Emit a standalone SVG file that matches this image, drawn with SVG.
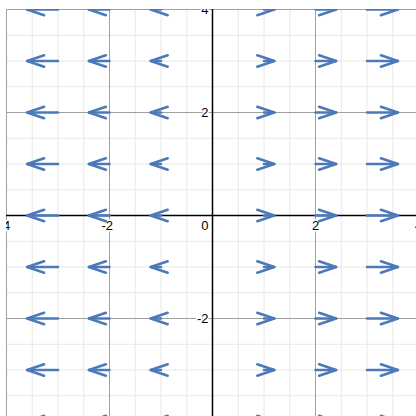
<svg xmlns="http://www.w3.org/2000/svg" width="416" height="416" viewBox="0 0 416 416">
<style>
.minor{stroke:#e8e8e8;stroke-width:1;fill:none}
.major{stroke:#a0a0a0;stroke-width:1;fill:none}
.axis{stroke:#000;stroke-width:1.5;fill:none}
.lbl{font-family:"Liberation Sans",Arial,sans-serif;font-size:13px;fill:#000;stroke:#fff;stroke-width:3;paint-order:stroke;stroke-linejoin:round}
.vec{stroke:#4c79b9;stroke-width:2.5;fill:none;stroke-linecap:round;marker-end:url(#ah)}
</style>
<defs>
<clipPath id="plot"><rect x="6" y="9" width="410" height="407"/></clipPath>
<marker id="ah" markerUnits="userSpaceOnUse" viewBox="-20 -8 22 16" refX="0" refY="0" markerWidth="22" markerHeight="16" orient="auto" overflow="visible">
<path d="M-17,-5.7 L0,0 L-17,5.7" stroke="#4c79b9" stroke-width="2.5" fill="none" stroke-linecap="round" stroke-linejoin="round"/>
</marker>
</defs>
<rect width="416" height="416" fill="#fff"/>
<g clip-path="url(#plot)">
<g id="grid-minor" class="minor">
<path d="M32.25,0V416M58,0V416M83.75,0V416M135.25,0V416M161,0V416M186.75,0V416M238.25,0V416M264,0V416M289.75,0V416M341.25,0V416M367,0V416M392.75,0V416"/>
<path d="M0,35.25H416M0,61H416M0,86.75H416M0,138.25H416M0,164H416M0,189.75H416M0,241.25H416M0,267H416M0,292.75H416M0,344.25H416M0,370H416M0,395.75H416"/>
</g>
<g id="grid-major" class="major">
<path d="M6.5,0V416M109.5,0V416M315.5,0V416M0,9.5H416M0,112.5H416M0,318.5H416"/>
</g>
<g id="axes" class="axis">
<path d="M212.5,0V416M0,215.5H416"/>
</g>
<g id="labels" class="lbl">
<text x="208.5" y="14.1" text-anchor="end">4</text>
<text x="208.5" y="117.1" text-anchor="end">2</text>
<text x="208.5" y="229.8" text-anchor="end">0</text>
<text x="208.5" y="323.1" text-anchor="end">-2</text>
<text x="10.1" y="229.8" text-anchor="end">-4</text>
<text x="113.1" y="229.8" text-anchor="end">-2</text>
<text x="315.5" y="229.8" text-anchor="middle">2</text>
<text x="418.5" y="229.8" text-anchor="middle">4</text>
</g>
<g id="connectors">
<g id="row-4">
<path class="vec" d="M58,9.5H27.1"/><path class="vec" d="M109.5,9.5H88.9"/><path class="vec" d="M161,9.5H150.7"/>
<path class="vec" d="M264,9.5H274.3"/><path class="vec" d="M315.5,9.5H336.1"/><path class="vec" d="M367,9.5H397.9"/>
</g>
<g id="row-3">
<path class="vec" d="M58,61H27.1"/><path class="vec" d="M109.5,61H88.9"/><path class="vec" d="M161,61H150.7"/>
<path class="vec" d="M264,61H274.3"/><path class="vec" d="M315.5,61H336.1"/><path class="vec" d="M367,61H397.9"/>
</g>
<g id="row-2">
<path class="vec" d="M58,112.5H27.1"/><path class="vec" d="M109.5,112.5H88.9"/><path class="vec" d="M161,112.5H150.7"/>
<path class="vec" d="M264,112.5H274.3"/><path class="vec" d="M315.5,112.5H336.1"/><path class="vec" d="M367,112.5H397.9"/>
</g>
<g id="row-1">
<path class="vec" d="M58,164H27.1"/><path class="vec" d="M109.5,164H88.9"/><path class="vec" d="M161,164H150.7"/>
<path class="vec" d="M264,164H274.3"/><path class="vec" d="M315.5,164H336.1"/><path class="vec" d="M367,164H397.9"/>
</g>
<g id="row0">
<path class="vec" d="M58,215.5H27.1"/><path class="vec" d="M109.5,215.5H88.9"/><path class="vec" d="M161,215.5H150.7"/>
<path class="vec" d="M264,215.5H274.3"/><path class="vec" d="M315.5,215.5H336.1"/><path class="vec" d="M367,215.5H397.9"/>
</g>
<g id="row-m1">
<path class="vec" d="M58,267H27.1"/><path class="vec" d="M109.5,267H88.9"/><path class="vec" d="M161,267H150.7"/>
<path class="vec" d="M264,267H274.3"/><path class="vec" d="M315.5,267H336.1"/><path class="vec" d="M367,267H397.9"/>
</g>
<g id="row-m2">
<path class="vec" d="M58,318.5H27.1"/><path class="vec" d="M109.5,318.5H88.9"/><path class="vec" d="M161,318.5H150.7"/>
<path class="vec" d="M264,318.5H274.3"/><path class="vec" d="M315.5,318.5H336.1"/><path class="vec" d="M367,318.5H397.9"/>
</g>
<g id="row-m3">
<path class="vec" d="M58,370H27.1"/><path class="vec" d="M109.5,370H88.9"/><path class="vec" d="M161,370H150.7"/>
<path class="vec" d="M264,370H274.3"/><path class="vec" d="M315.5,370H336.1"/><path class="vec" d="M367,370H397.9"/>
</g>
<g id="row-m4">
<path class="vec" d="M58,421.5H27.1"/><path class="vec" d="M109.5,421.5H88.9"/><path class="vec" d="M161,421.5H150.7"/>
<path class="vec" d="M264,421.5H274.3"/><path class="vec" d="M315.5,421.5H336.1"/><path class="vec" d="M367,421.5H397.9"/>
</g>
</g>
</g>
</svg>
